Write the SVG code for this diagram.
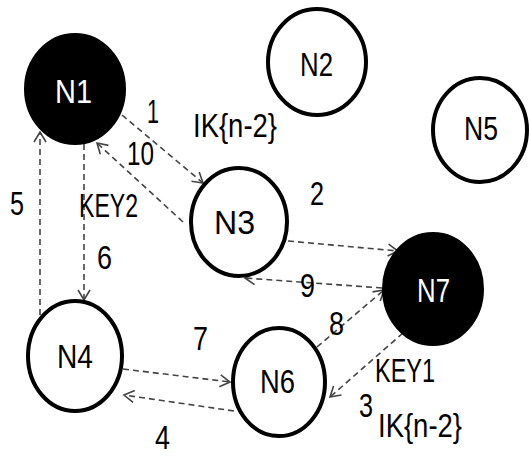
<svg xmlns="http://www.w3.org/2000/svg" width="529" height="457" viewBox="0 0 529 457">
<defs>
<marker id="ah" markerUnits="userSpaceOnUse" markerWidth="14" markerHeight="14" refX="10" refY="6" orient="auto" overflow="visible">
<path d="M0,0 L10,6 L0,12" fill="none" stroke="#444" stroke-width="1.6"/>
</marker>
<style>
.node{fill:#fff;stroke:#000;stroke-width:4}
.dark{fill:#000;stroke:#000;stroke-width:4}
.lbl{font-family:"Liberation Sans",Arial,sans-serif;font-size:34px;fill:#000}
.w{fill:#fff}
.edge{fill:none;stroke:#444;stroke-width:1.6;stroke-dasharray:6 4;marker-end:url(#ah)}
</style>
</defs>
<rect width="529" height="457" fill="#fff"/>
<g id="connectors">
<line class="edge" x1="122" y1="115" x2="203" y2="183"/>
<line class="edge" x1="183" y1="222" x2="97" y2="143"/>
<line class="edge" x1="84" y1="144" x2="84" y2="300"/>
<line class="edge" x1="40" y1="315" x2="40" y2="132"/>
<line class="edge" x1="288" y1="241" x2="398" y2="251"/>
<line class="edge" x1="382" y1="288" x2="245" y2="278"/>
<line class="edge" x1="317" y1="347" x2="384" y2="290"/>
<line class="edge" x1="403" y1="333" x2="330" y2="397"/>
<line class="edge" x1="123" y1="369" x2="230" y2="382"/>
<line class="edge" x1="234" y1="411" x2="124" y2="395"/>
</g>
<g id="N1"><ellipse class="dark" cx="75" cy="89" rx="49" ry="54"/><text class="lbl w" x="55" y="103" textLength="37" lengthAdjust="spacingAndGlyphs">N1</text></g>
<g id="N2"><ellipse class="node" cx="317" cy="62" rx="49" ry="53"/><text class="lbl" x="300" y="76" textLength="33" lengthAdjust="spacingAndGlyphs">N2</text></g>
<g id="N3"><ellipse class="node" cx="239" cy="222" rx="48" ry="54"/><text class="lbl" x="214" y="234" textLength="41" lengthAdjust="spacingAndGlyphs">N3</text></g>
<g id="N4"><ellipse class="node" cx="75" cy="356" rx="47" ry="55"/><text class="lbl" x="57" y="368" textLength="36" lengthAdjust="spacingAndGlyphs">N4</text></g>
<g id="N5"><ellipse class="node" cx="480" cy="130" rx="47" ry="52"/><text class="lbl" x="464" y="140" textLength="34" lengthAdjust="spacingAndGlyphs">N5</text></g>
<g id="N6"><ellipse class="node" cx="279" cy="382" rx="46" ry="54"/><text class="lbl" x="260" y="393" textLength="35" lengthAdjust="spacingAndGlyphs">N6</text></g>
<g id="N7"><ellipse class="dark" cx="433" cy="289" rx="49" ry="55"/><text class="lbl w" x="417" y="302" textLength="33" lengthAdjust="spacingAndGlyphs">N7</text></g>
<g id="labels">
<text class="lbl" x="147" y="123" textLength="12" lengthAdjust="spacingAndGlyphs">1</text>
<text class="lbl" x="193" y="137" textLength="84" lengthAdjust="spacingAndGlyphs">IK{n-2}</text>
<text class="lbl" x="127" y="165" textLength="27" lengthAdjust="spacingAndGlyphs">10</text>
<text class="lbl" x="10" y="215" textLength="14" lengthAdjust="spacingAndGlyphs">5</text>
<text class="lbl" x="79" y="217" textLength="59" lengthAdjust="spacingAndGlyphs">KEY2</text>
<text class="lbl" x="97" y="269" textLength="15" lengthAdjust="spacingAndGlyphs">6</text>
<text class="lbl" x="310" y="205" textLength="14" lengthAdjust="spacingAndGlyphs">2</text>
<text class="lbl" x="300" y="297" textLength="15" lengthAdjust="spacingAndGlyphs">9</text>
<text class="lbl" x="329" y="335" textLength="15" lengthAdjust="spacingAndGlyphs">8</text>
<text class="lbl" x="193" y="350" textLength="15" lengthAdjust="spacingAndGlyphs">7</text>
<text class="lbl" x="375" y="382" textLength="60" lengthAdjust="spacingAndGlyphs">KEY1</text>
<text class="lbl" x="359" y="417" textLength="14" lengthAdjust="spacingAndGlyphs">3</text>
<text class="lbl" x="378" y="437" textLength="84" lengthAdjust="spacingAndGlyphs">IK{n-2}</text>
<text class="lbl" x="155" y="449" font-size="32" textLength="15" lengthAdjust="spacingAndGlyphs">4</text>
</g>
</svg>
